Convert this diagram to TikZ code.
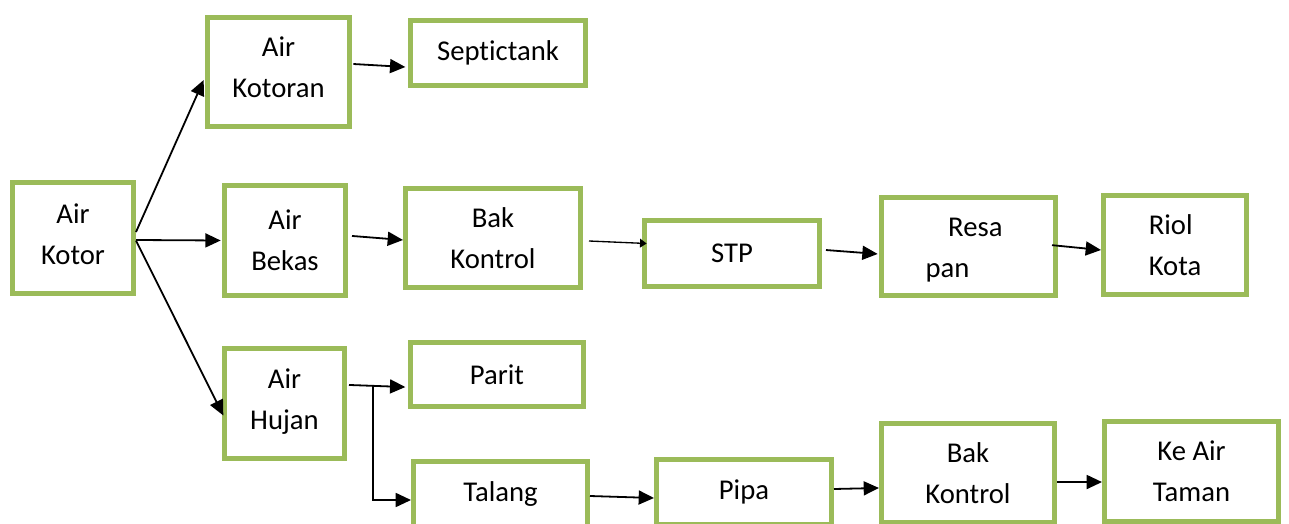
\documentclass[tikz,border=0pt]{standalone}
\usepackage{fontspec}
\setmainfont{Carlito}[Ligatures={NoCommon}]
\usetikzlibrary{arrows.meta}
\definecolor{boxgreen}{HTML}{9BBB59}
\tikzset{
  box/.style 2 args={draw=boxgreen, line width=3.75pt, fill=white,
    minimum width=#1*0.75pt, minimum height=#2*0.75pt,
    inner sep=0pt, align=center,
    font=\fontsize{21.5pt}{30.75pt}\selectfont},
  txt/.style={inner sep=0pt, align=center,
    font=\fontsize{21.5pt}{30.75pt}\selectfont},
  arr/.style={line width=1.35pt, -{Triangle[length=11.5pt,width=10.5pt]}},
  arrsmall/.style={line width=1pt, -{Triangle[length=5pt,width=6.5pt]}}
}
\begin{document}
\begin{tikzpicture}[x=0.75pt,y=-0.75pt]
\useasboundingbox (0,0) rectangle (1289,524);
\clip (0,0) rectangle (1289,524);
\node[box={121}{111}] (kotor) at (73,238) {};
\node[txt] (kotortxt) at (73,234.5) {Air\\Kotor};
\node[box={142}{109}] (kotoran) at (278.5,72) {};
\node[txt] (kotorantxt) at (278.5,67.5) {Air\\Kotoran};
\node[box={175}{65}] (septic) at (498,53) {Septictank};
\node[box={121}{110}] (bekas) at (285,240.5) {Air\\Bekas};
\node[box={175}{99}] (bak1) at (493,238) {Bak\\Kontrol};
\node[box={175}{66}] (stp) at (732,253.5) {STP};
\node[box={174}{98}] (resapan) at (968.5,246.5) {};
\node[txt, align=left] (resapantxt) at (964,250) {\hspace*{17pt}Resa\\pan};
\node[box={143}{99}, align=left] (riol) at (1175,245) {Riol\\Kota};
\node[box={120}{110}] (hujan) at (284.5,403.5) {};
\node[txt] (hujantxt) at (284.5,401.5) {Air\\Hujan};
\node[box={173}{64}] (parit) at (497,374.5) {Parit};
\node[box={174}{65}] (talang) at (500.5,494) {Talang};
\node[box={175}{65}] (pipa) at (744,492) {Pipa};
\node[box={173}{99}] (bak2) at (968,473) {Bak\\Kontrol};
\node[box={174}{100}] (taman) at (1191.5,471.5) {Ke Air\\Taman};
\coordinate (split) at (373,386);

\draw[arr] ([yshift=4.5pt]kotor.east) -- ([yshift=-6pt,xshift=-1pt]kotoran.west);
\draw[arr] ([yshift=-1.5pt]kotor.east) -- ([xshift=-1pt]bekas.west);
\draw[arr] ([yshift=-2pt]kotor.east) -- ([yshift=-9pt,xshift=1pt]hujan.west);
\draw[arr] ([yshift=6pt,xshift=1pt]kotoran.east) -- ([yshift=-10.5pt,xshift=-2pt]septic.west);
\draw[arr] ([yshift=3.4pt,xshift=3pt]bekas.east) -- ([yshift=-1.5pt]bak1.west);
\draw[arrsmall] ([yshift=-2.25pt,xshift=4.5pt]bak1.east) -- ([yshift=7.5pt,xshift=3.5pt]stp.west);
\draw[arr] ([yshift=2.6pt,xshift=3pt]stp.east) -- ([yshift=-5.6pt,xshift=-1pt]resapan.west);
\draw[arr] ([yshift=1pt,xshift=-4.5pt]resapan.east) -- ([yshift=-3.75pt]riol.west);
\draw[arr] ([yshift=13.9pt,xshift=1.5pt]hujan.east) -- ([yshift=-9.4pt,xshift=-2pt]parit.west);
\draw[arr] (split) |- ([yshift=-4.5pt]talang.west);
\draw[arr] ([yshift=-1.5pt]talang.east) -- ([yshift=-4.5pt]pipa.west);
\draw[arr] ([yshift=2.25pt]pipa.east) -- ([yshift=-11.25pt]bak2.west);
\draw[arr] ([yshift=-6.75pt]bak2.east) -- ([yshift=-7.9pt]taman.west);
\end{tikzpicture}
\end{document}
